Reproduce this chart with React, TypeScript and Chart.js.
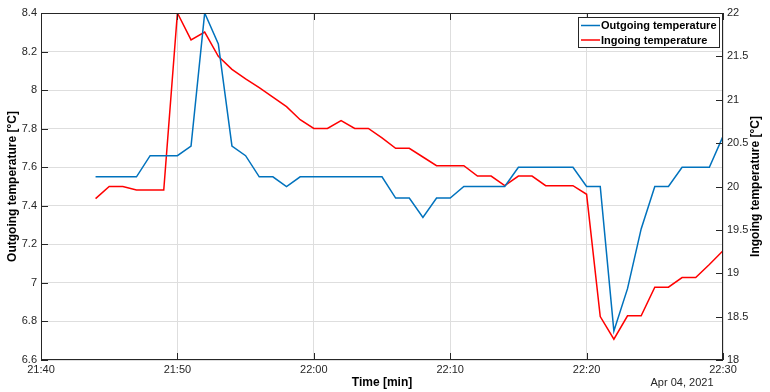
import { useEffect, useRef } from "react";
import { Chart, registerables } from "chart.js";

Chart.register(...registerables);

// Sample times (one per minute)
const times = [
  "21:44", "21:45", "21:46", "21:47", "21:48", "21:49", "21:50", "21:51", "21:52", "21:53",
  "21:54", "21:55", "21:56", "21:57", "21:58", "21:59", "22:00", "22:01", "22:02", "22:03",
  "22:04", "22:05", "22:06", "22:07", "22:08", "22:09", "22:10", "22:11", "22:12", "22:13",
  "22:14", "22:15", "22:16", "22:17", "22:18", "22:19", "22:20", "22:21", "22:22", "22:23",
  "22:24", "22:25", "22:26", "22:27", "22:28", "22:29", "22:30",
];

const outgoing = [
  7.55, 7.55, 7.55, 7.55, 7.66, 7.66, 7.66, 7.71, 8.40, 8.24,
  7.71, 7.66, 7.55, 7.55, 7.50, 7.55, 7.55, 7.55, 7.55, 7.55,
  7.55, 7.55, 7.44, 7.44, 7.34, 7.44, 7.44, 7.50, 7.50, 7.50,
  7.50, 7.60, 7.60, 7.60, 7.60, 7.60, 7.50, 7.50, 6.75, 6.97,
  7.28, 7.50, 7.50, 7.60, 7.60, 7.60, 7.76,
];

const ingoing = [
  19.86, 20.0, 20.0, 19.96, 19.96, 19.96, 22.0, 21.69, 21.78, 21.5,
  21.35, 21.24, 21.14, 21.03, 20.92, 20.77, 20.67, 20.67, 20.76, 20.67,
  20.67, 20.56, 20.44, 20.44, 20.34, 20.24, 20.24, 20.24, 20.12, 20.12,
  20.01, 20.12, 20.12, 20.01, 20.01, 20.01, 19.91, 18.5, 18.24, 18.51,
  18.51, 18.84, 18.84, 18.95, 18.95, 19.1, 19.26,
];

const xTickLabels = ["21:40", "21:50", "22:00", "22:10", "22:20", "22:30"];
const startTime = "21:40";
const dateLabel = "Apr 04, 2021";
const seriesNames = ["Outgoing temperature", "Ingoing temperature"];
const leftTitle = "Outgoing temperature [°C]";
const rightTitle = "Ingoing temperature [°C]";
const xTitle = "Time [min]";

const FONT = '"Liberation Sans", Arial, Helvetica, sans-serif';
const AXIS = "#262626";
const BLUE = "#0072BD";
const RED = "#FF0000";

function toMin(t: string) {
  const [h, m] = t.split(":").map(Number);
  return h * 60 + m;
}

export default function App() {
  const ref = useRef<HTMLCanvasElement | null>(null);

  useEffect(() => {
    document.body.style.margin = "0";
    const canvas = ref.current;
    if (!canvas) return;
    const t0 = toMin(startTime);

    const framePlugin = {
      id: "matlabFrame",
      afterDraw(chart: any) {
        const { ctx, chartArea } = chart;
        const { left, right, top, bottom } = chartArea;
        ctx.save();
        ctx.strokeStyle = AXIS;
        ctx.lineWidth = 1;
        // box
        ctx.strokeRect(Math.round(left) + 0.5, Math.round(top) + 0.5, Math.round(right - left) - 1, Math.round(bottom - top) - 1);
        const TL = 7;
        ctx.beginPath();
        const xs = chart.scales.x;
        xs.ticks.forEach((t: any) => {
          const px = Math.round(xs.getPixelForValue(t.value)) + 0.5;
          ctx.moveTo(px, bottom);
          ctx.lineTo(px, bottom - TL);
          ctx.moveTo(px, top);
          ctx.lineTo(px, top + TL);
        });
        const ys = chart.scales.y;
        ys.ticks.forEach((t: any) => {
          const py = Math.round(ys.getPixelForValue(t.value)) + 0.5;
          ctx.moveTo(left, py);
          ctx.lineTo(left + TL, py);
        });
        const y2 = chart.scales.y2;
        y2.ticks.forEach((t: any) => {
          const py = Math.round(y2.getPixelForValue(t.value)) + 0.5;
          ctx.moveTo(right, py);
          ctx.lineTo(right - TL, py);
        });
        ctx.stroke();

        // legend
        const lx = 578, ly = 17, lw = 141, lh = 30;
        ctx.fillStyle = "#ffffff";
        ctx.fillRect(lx, ly, lw, lh);
        ctx.strokeStyle = AXIS;
        ctx.strokeRect(lx + 0.5, ly + 0.5, lw, lh);
        const colors = [BLUE, RED];
        ctx.font = `bold 11px ${FONT}`;
        ctx.textBaseline = "middle";
        ctx.textAlign = "left";
        seriesNames.forEach((name, i) => {
          const yy = ly + 8.5 + i * 14.5;
          ctx.strokeStyle = colors[i];
          ctx.lineWidth = 1.5;
          ctx.beginPath();
          ctx.moveTo(lx + 3, yy);
          ctx.lineTo(lx + 22, yy);
          ctx.stroke();
          ctx.fillStyle = "#000000";
          ctx.fillText(name, lx + 23, yy + 0.5);
        });

        // titles
        ctx.fillStyle = "#000000";
        ctx.font = `bold 12px ${FONT}`;
        ctx.textAlign = "center";
        ctx.textBaseline = "middle";
        const cy = (top + bottom) / 2;
        ctx.save();
        ctx.translate(13, cy);
        ctx.rotate(-Math.PI / 2);
        ctx.fillText(leftTitle, 0, 0);
        ctx.restore();
        ctx.save();
        ctx.translate(756, cy);
        ctx.rotate(-Math.PI / 2);
        ctx.fillText(rightTitle, 0, 0);
        ctx.restore();
        ctx.fillText(xTitle, (left + right) / 2, 383);
        ctx.font = `11px ${FONT}`;
        ctx.fillStyle = AXIS;
        ctx.fillText(dateLabel, 682, 383);
        ctx.restore();
      },
    };

    const chart = new Chart(canvas, {
      type: "line",
      data: {
        datasets: [
          {
            label: seriesNames[0],
            data: times.map((t, i) => ({ x: toMin(t) - t0, y: outgoing[i] })),
            borderColor: BLUE,
            backgroundColor: BLUE,
            borderWidth: 1.5,
            pointRadius: 0,
            tension: 0,
            yAxisID: "y",
          },
          {
            label: seriesNames[1],
            data: times.map((t, i) => ({ x: toMin(t) - t0, y: ingoing[i] })),
            borderColor: RED,
            backgroundColor: RED,
            borderWidth: 1.5,
            pointRadius: 0,
            tension: 0,
            yAxisID: "y2",
          },
        ],
      },
      options: {
        responsive: false,
        animation: false,
        devicePixelRatio: 1,
        layout: { padding: { top: 13, left: 0, right: 0, bottom: 0 } },
        plugins: { legend: { display: false }, tooltip: { enabled: false } },
        scales: {
          x: {
            type: "linear",
            min: 0,
            max: 50,
            ticks: {
              stepSize: 10,
              autoSkip: false,
              maxRotation: 0,
              padding: 3,
              color: AXIS,
              font: { family: FONT, size: 11 },
              callback: (_v: any, i: number) => xTickLabels[i],
            },
            grid: { color: "#dedede", drawTicks: false },
            border: { display: false },
            afterFit: (s: any) => {
              s.height = 32;
            },
          },
          y: {
            position: "left",
            min: 6.6,
            max: 8.4,
            ticks: {
              stepSize: 0.2,
              padding: 4,
              color: AXIS,
              font: { family: FONT, size: 11 },
              callback: (v: any) => String(Math.round(Number(v) * 10) / 10),
            },
            grid: { color: "#dedede", drawTicks: false },
            border: { display: false },
            afterFit: (s: any) => {
              s.width = 41;
            },
          },
          y2: {
            position: "right",
            min: 18,
            max: 22,
            ticks: {
              stepSize: 0.5,
              padding: 4,
              color: AXIS,
              font: { family: FONT, size: 11 },
              callback: (v: any) => String(Math.round(Number(v) * 10) / 10),
            },
            grid: { drawOnChartArea: false, drawTicks: false },
            border: { display: false },
            afterFit: (s: any) => {
              s.width = 47;
            },
          },
        },
      },
      plugins: [framePlugin],
    } as any);

    return () => chart.destroy();
  }, []);

  return (
    <div style={{ position: "fixed", left: 0, top: 0, width: 770, height: 392, background: "#fff" }}>
      <canvas ref={ref} width={770} height={392} style={{ width: 770, height: 392 }} />
    </div>
  );
}
